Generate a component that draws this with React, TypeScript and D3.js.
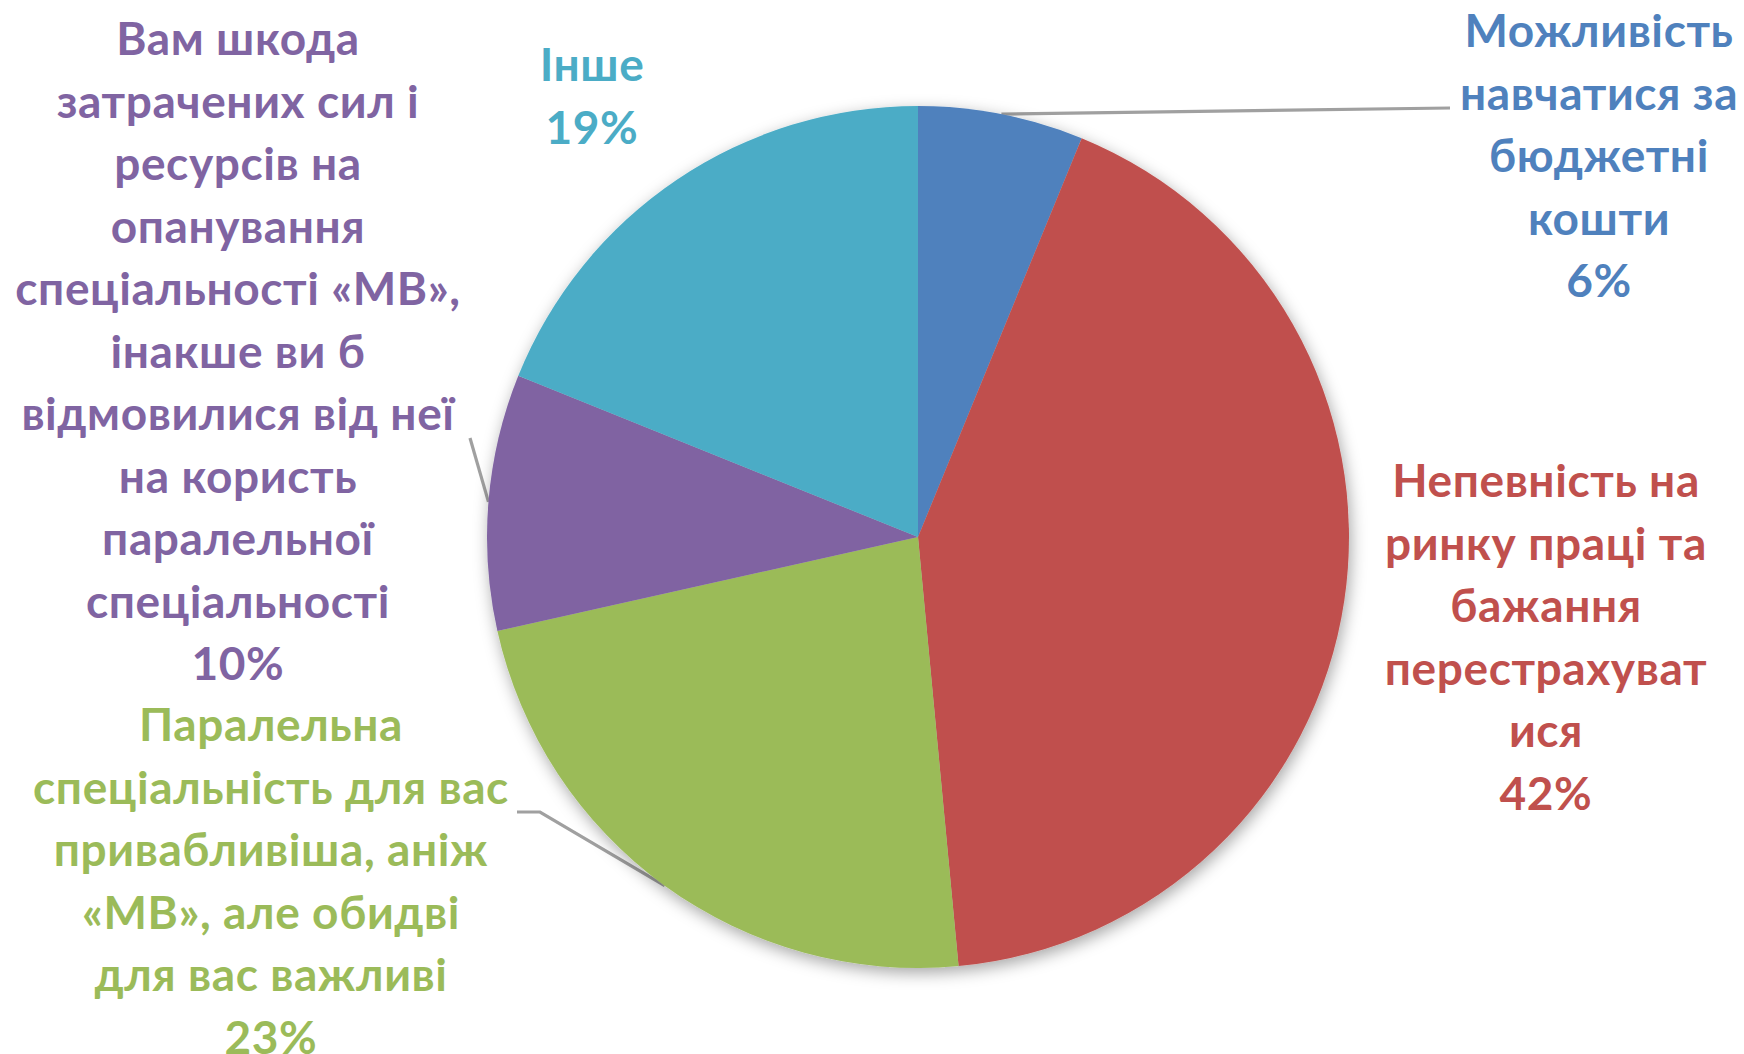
import React from "react";
import * as d3 from "d3";

// chart data
const categories: string[][] = [
  ["Можливість", "навчатися за", "бюджетні", "кошти"],
  ["Непевність на", "ринку праці та", "бажання", "перестрахуват", "ися"],
  ["Паралельна", "спеціальність для вас", "привабливіша, аніж", "«МВ», але обидві", "для вас важливі"],
  [
    "Вам шкода",
    "затрачених сил і",
    "ресурсів на",
    "опанування",
    "спеціальності «МВ»,",
    "інакше ви б",
    "відмовилися від неї",
    "на користь",
    "паралельної",
    "спеціальності",
  ],
  ["Інше"],
];
const values = [6.2, 42.3, 23.0, 9.6, 18.9];
const colors = ["#4f81bd", "#c0504d", "#9bbb59", "#8064a2", "#4bacc6"];

// label layout: centre x, first line y, leader anchor points (null = no leader)
const labelPos = [
  { x: 1599, y: 31, leader: [[1450, 108]] },
  { x: 1546, y: 481, leader: null },
  { x: 271, y: 725, leader: [[517, 812], [540, 812]] },
  { x: 238, y: 39, leader: [[470, 438]] },
  { x: 592, y: 65, leader: null },
];

const W = 1744;
const H = 1054;
const cx = 918;
const cy = 537;
const R = 431;
const lineH = 62.5;

const App = () => {
  const total = d3.sum(values);
  const pie = d3.pie<number>().sort(null).value((d) => d);
  const arcs = pie(values);
  const arc = d3.arc<d3.PieArcDatum<number>>().innerRadius(0).outerRadius(R);

  // point on the rim at the middle of a slice
  const edge = (a: d3.PieArcDatum<number>): [number, number] => {
    const m = (a.startAngle + a.endAngle) / 2;
    return [cx + Math.sin(m) * R, cy - Math.cos(m) * R];
  };

  return (
    <svg
      width={W}
      height={H}
      style={{ position: "absolute", left: 0, top: 0, display: "block", background: "#fff" }}
    >
      <defs>
        <filter id="shadow" x="-10%" y="-10%" width="120%" height="120%">
          <feDropShadow dx="2" dy="5" stdDeviation="8" floodColor="#000" floodOpacity="0.35" />
        </filter>
      </defs>

      {/* leader lines */}
      {arcs.map((a, i) => {
        const lp = labelPos[i];
        if (!lp.leader) return null;
        const pts = [...lp.leader, edge(a)] as [number, number][];
        return (
          <path
            key={"l" + i}
            d={d3.line()(pts) ?? ""}
            fill="none"
            stroke="#a0a0a0"
            strokeWidth={3.2}
          />
        );
      })}

      <g transform={`translate(${cx},${cy})`} filter="url(#shadow)">
        {arcs.map((a, i) => (
          <path key={i} d={arc(a) ?? ""} fill={colors[i]} />
        ))}
      </g>

      {/* labels */}
      {arcs.map((a, i) => {
        const lp = labelPos[i];
        const lines = [...categories[i], `${Math.round((values[i] / total) * 100)}%`];
        return (
          <text
            key={"t" + i}
            x={lp.x}
            fill={colors[i]}
            fontFamily="Lato, 'Open Sans', sans-serif"
            fontWeight="bold"
            fontSize={46}
            letterSpacing={0.6}
            textAnchor="middle"
          >
            {lines.map((ln, j) => (
              <tspan key={j} x={lp.x} y={lp.y + j * lineH + 16}>
                {ln}
              </tspan>
            ))}
          </text>
        );
      })}
    </svg>
  );
};

export default App;
